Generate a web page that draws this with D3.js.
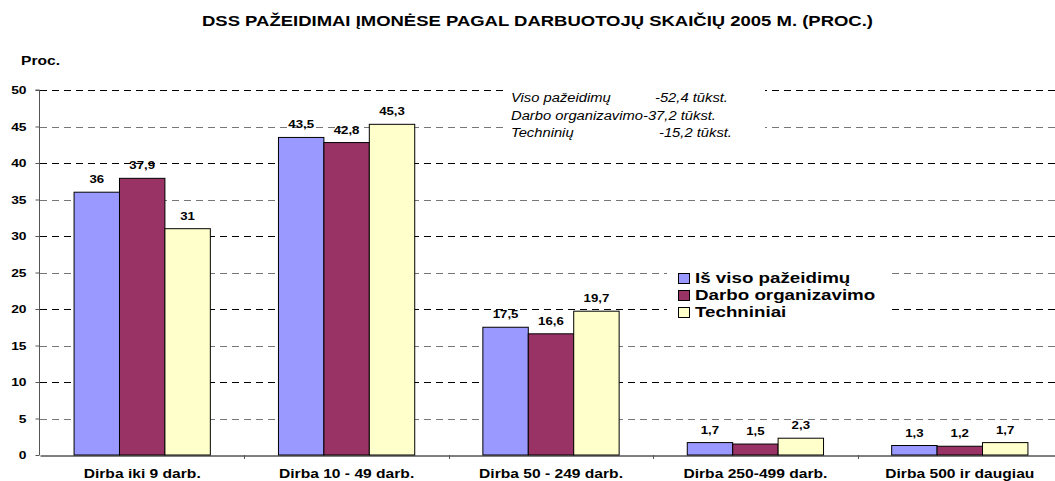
<!DOCTYPE html>
<html><head><meta charset="utf-8">
<script src="https://cdn.jsdelivr.net/npm/d3@7"></script>
<style>body{margin:0;background:#fff}svg{display:block;font-family:Arial,"Liberation Sans",sans-serif}</style>
</head><body><svg id="c" width="1055" height="481"></svg>
<script>
const categories = ["Dirba iki 9 darb.","Dirba 10 - 49 darb.","Dirba 50 - 249 darb.","Dirba 250-499  darb.","Dirba 500 ir daugiau"];
const seriesNames = ["Iš viso pažeidimų","Darbo organizavimo","Techniniai"];
const isViso = [36,43.5,17.5,1.7,1.3];
const darbo = [37.9,42.8,16.6,1.5,1.2];
const techniniai = [31,45.3,19.7,2.3,1.7];
const yTicks = [0,5,10,15,20,25,30,35,40,45,50];
const colors = ["#9999FF","#993366","#FFFFCC"];
const noteLabels = ["Viso pažeidimų","Darbo organizavimo","Techninių"];
const noteValues = ["-52,4 tūkst.","-37,2 tūkst.","-15,2 tūkst."];

(function(){
const series = [isViso, darbo, techniniai];
const svg = d3.select("#c");
const mLeft = 40, mRight = 1062, mTop = 90, mBottom = 455;
const x = d3.scaleBand().domain(categories).range([mLeft, mRight]).paddingInner(0).paddingOuter(0);
const y = d3.scaleLinear().domain([0,50]).range([mBottom, mTop]);
const inner = d3.scaleBand().domain(d3.range(3)).range([0, x.bandwidth()]).paddingOuter(0.75).paddingInner(0);
const fmt = v => String(v).replace(".", ",");
function stretch(sel, f) {
  sel.each(function(){
    const w = this.getComputedTextLength();
    d3.select(this).attr("textLength", w*f).attr("lengthAdjust","spacingAndGlyphs");
  });
}
function fitTo(sel, w) {
  sel.attr("textLength", w).attr("lengthAdjust","spacingAndGlyphs");
}

fitTo(svg.append("text").attr("x", 537.5).attr("y", 26).attr("text-anchor","middle")
  .attr("font-size", 15).attr("font-weight","bold").text("DSS PAŽEIDIMAI ĮMONĖSE PAGAL DARBUOTOJŲ SKAIČIŲ 2005 M. (PROC.)"), 671);
stretch(svg.append("text").attr("x", 21).attr("y", 65).attr("font-size", 12).attr("font-weight","bold").text("Proc."), 1.3);

// grid
svg.append("g").selectAll("line").data(yTicks.filter(d=>d>0)).join("line")
  .attr("x1", mLeft).attr("x2", 1055).attr("y1", d=>Math.round(y(d))+0.5).attr("y2", d=>Math.round(y(d))+0.5)
  .attr("stroke", d => d%10===0 ? "#000" : "#777").attr("stroke-dasharray","7,5");

// y axis
const ya = svg.append("g").attr("transform",`translate(${mLeft-0.5},0)`)
  .call(d3.axisLeft(y).tickValues(yTicks).tickSize(4).tickFormat(d=>d));
ya.select(".domain").attr("stroke","#555").attr("d", `M-4,${mTop}H0V${mBottom}`);
ya.selectAll(".tick line").attr("stroke","#555");
ya.selectAll(".tick text").attr("font-size", 11.5).attr("font-weight","bold").attr("x",-13).attr("fill","#000");
stretch(ya.selectAll(".tick text"), 1.2);

// x axis
const xa = svg.append("g").attr("transform",`translate(0,${mBottom+0.5})`)
  .call(d3.axisBottom(x).tickSize(0));
xa.select(".domain").attr("stroke","#000");
xa.selectAll(".tick text").attr("font-size", 12).attr("font-weight","bold").attr("dy", 0).attr("y", 22).attr("fill","#000");
stretch(xa.selectAll(".tick text"), 1.3);
svg.append("g").selectAll("line").data(categories.slice(1)).join("line")
  .attr("x1", d=>Math.round(x(d))+0.5).attr("x2", d=>Math.round(x(d))+0.5)
  .attr("y1", mBottom).attr("y2", mBottom+4).attr("stroke","#555");

// bars
series.forEach((vals, si) => {
  const g = svg.append("g");
  g.selectAll("rect").data(vals).join("rect")
    .attr("x", (d,i)=> x(categories[i]) + inner(si))
    .attr("y", d=>y(d)).attr("width", inner.bandwidth()).attr("height", d=>mBottom - y(d))
    .attr("fill", colors[si]).attr("stroke","#000").attr("stroke-width",1);
  const t = g.selectAll("text").data(vals).join("text")
    .attr("x", (d,i)=> x(categories[i]) + inner(si) + inner.bandwidth()/2)
    .attr("y", d=>y(d)-9).attr("text-anchor","middle").attr("font-size",11.5).attr("font-weight","bold")
    .text(fmt);
  stretch(t, 1.15);
});

// annotation
svg.append("rect").attr("x",505).attr("y",84).attr("width",260).attr("height",56).attr("fill","#fff");
const nt = svg.append("g").attr("font-size",12.5).attr("font-style","italic");
noteLabels.forEach((n,i)=>{
  const t = nt.append("text").attr("x",511).attr("y",102+i*17.5).text(n);
  stretch(t, 1.18);
  let vx = i===0 ? 655 : i===2 ? 659 : 511 + (+t.attr("textLength"));
  stretch(nt.append("text").attr("x",vx).attr("y",102+i*17.5).text(noteValues[i]), 1.18);
});

// legend
svg.append("rect").attr("x",667).attr("y",258).attr("width",220).attr("height",66).attr("fill","#fff");
const lg = svg.append("g");
seriesNames.forEach((n,i)=>{
  lg.append("rect").attr("x",678.5).attr("y",273.5+i*17).attr("width",11).attr("height",10)
    .attr("fill",colors[i]).attr("stroke","#000");
  stretch(lg.append("text").attr("x",695).attr("y",283+i*17).attr("font-size",15).attr("font-weight","bold").text(n), 1.25);
});
})();
</script></body></html>
